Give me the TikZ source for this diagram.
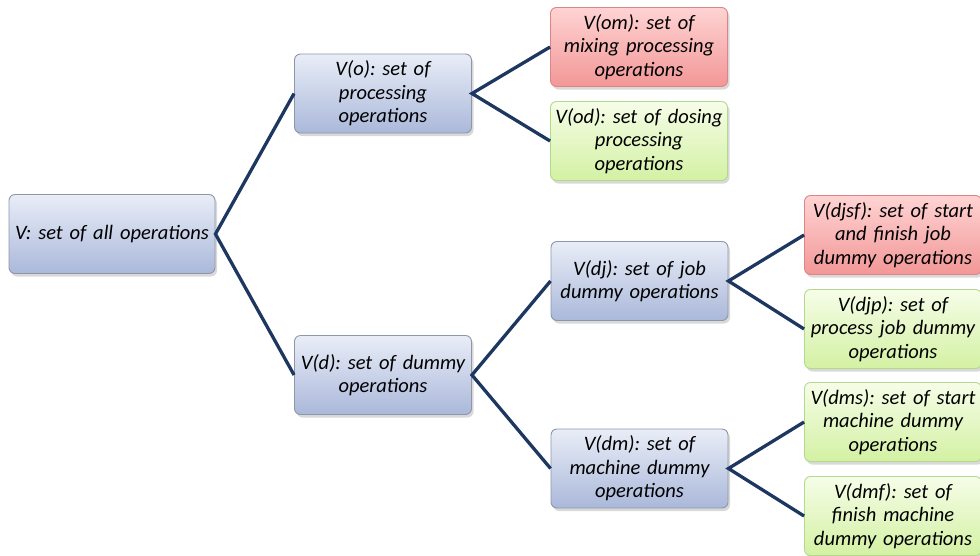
\documentclass[tikz,border=0pt]{standalone}
\usepackage{fontspec}
\setmainfont{Carlito}
\usetikzlibrary{shadows}

\definecolor{linkblue}{HTML}{1D3760}
\definecolor{bluetop}{HTML}{E9EDF7}
\definecolor{bluebot}{HTML}{AAB8DA}
\definecolor{blueline}{HTML}{8E97A8}
\definecolor{redtop}{HTML}{FFD3D3}
\definecolor{redbot}{HTML}{F29797}
\definecolor{redline}{HTML}{DE8484}
\definecolor{greentop}{HTML}{F6FDE8}
\definecolor{greenbot}{HTML}{D3F1A3}
\definecolor{greenline}{HTML}{B4D98C}

\tikzset{
	opbox/.style={rectangle, rounded corners=6pt, line width=0.9pt,
		minimum width=177pt, minimum height=79pt, text width=176pt,
		inner xsep=0.5pt, inner ysep=0pt, align=center,
		font=\fontsize{20.5}{23.5}\selectfont\itshape,
		drop shadow={shadow xshift=2pt, shadow yshift=-3pt, opacity=0.3}},
	bluebox/.style={opbox, draw=blueline, top color=bluetop, bottom color=bluebot},
	redbox/.style={opbox, draw=redline, top color=redtop, bottom color=redbot},
	greenbox/.style={opbox, draw=greenline, top color=greentop, bottom color=greenbot},
	link/.style={draw=linkblue, line width=3.3pt}
}

\begin{document}
\frenchspacing
\begin{tikzpicture}[x=1pt, y=-1pt]
	\useasboundingbox (0,0) rectangle (980,555);

	\node[bluebox, minimum width=206pt, text width=205pt] (v) at (112,234) {V: set of all operations};

	\node[bluebox] (vo) at (383,93.5) {V(o): set of\\ processing\\ operations};
	\node[bluebox] (vd) at (383,375) {V(d): set of dummy\\ operations};

	\node[redbox] (vom) at (639,47) {V(om): set of\\ mixing processing\\ operations};
	\node[greenbox] (vod) at (639,141) {V(od): set of dosing\\ processing\\ operations};
	\node[bluebox] (vdj) at (639.5,281) {V(dj): set of job\\ dummy operations};
	\node[bluebox] (vdm) at (639.5,468.5) {V(dm): set of\\ machine dummy\\ operations};

	\node[redbox] (vdjsf) at (893,235) {V(djsf): set of start\\ and finish job\\ dummy operations};
	\node[greenbox] (vdjp) at (893,329) {V(djp): set of\\ process job dummy\\ operations};
	\node[greenbox] (vdms) at (893,422) {V(dms): set of start\\ machine dummy\\ operations};
	\node[greenbox] (vdmf) at (893,516) {V(dmf): set of\\ finish machine\\ dummy operations};

	\draw[link] (vo.west) -- (v.east) -- (vd.west);
	\draw[link] (vom.west) -- (vo.east) -- (vod.west);
	\draw[link] (vdj.west) -- (vd.east) -- (vdm.west);
	\draw[link] (vdjsf.west) -- (vdj.east) -- (vdjp.west);
	\draw[link] (vdms.west) -- (vdm.east) -- (vdmf.west);
\end{tikzpicture}
\end{document}
